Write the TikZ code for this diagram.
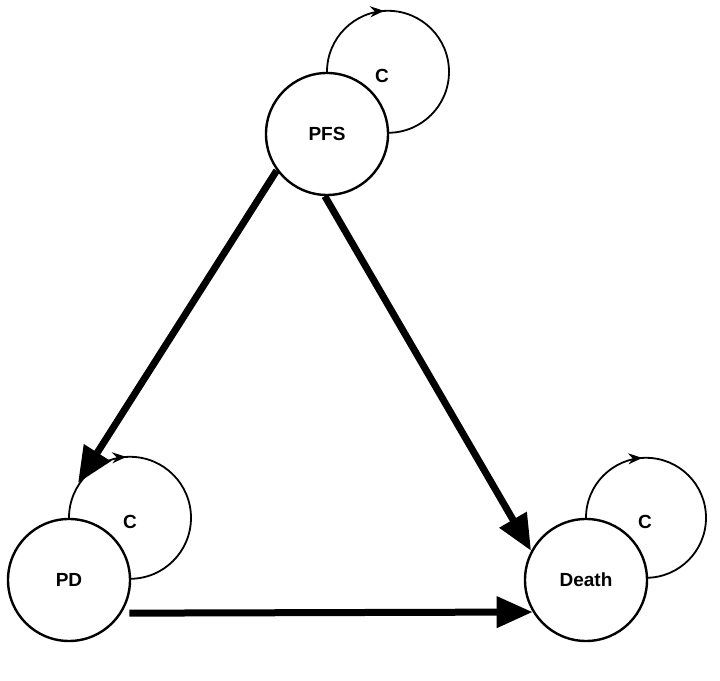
\documentclass[tikz,border=0pt]{standalone}
\usepackage{fontspec}
\setmainfont{Liberation Sans}
\usetikzlibrary{arrows.meta,decorations.markings}

\begin{document}
\begin{tikzpicture}[x=1pt,y=1pt,
    state/.style={circle,draw,line width=2.4pt,minimum size=122pt,inner sep=0pt,font=\bfseries\fontsize{19}{22}\selectfont},
    lab/.style={font=\bfseries\fontsize{19}{22}\selectfont},
    selfloop/.style={line width=1.8pt,postaction={decorate},
      decoration={markings,mark=at position 0.32 with {\arrow{Stealth[length=14pt,width=11pt]}}}},
    flow/.style={line width=7pt,-{Triangle[length=36pt,width=30pt]}}]
    \useasboundingbox (0,0) rectangle (720,680);
    \node[state] (pfs) at (327,546) {PFS};
    \node[state] (pd) at (69,100) {PD};
    \node[state] (death) at (586,100) {Death};
    % self loops
    \draw[selfloop] (pfs.north) arc[start angle=180,end angle=-90,radius=61pt];
    \draw[selfloop] (pd.north) arc[start angle=180,end angle=-90,radius=61pt];
    \draw[selfloop] (death.north) arc[start angle=180,end angle=-90,radius=60pt];
    \node[lab] (cpfs) at (382,604) {C};
    \node[lab] (cpd) at (130,158) {C};
    \node[lab] (cdeath) at (645,158) {C};
    % transitions
    \coordinate (pdin) at (78,197);
    \draw[flow] (pfs.216) -- (pdin);
    \draw[flow] (pfs.268) -- (death.152);
    \draw[flow] ([shift={(6pt,-3pt)}]pd.-29) -- (death.211);
\end{tikzpicture}
\end{document}
